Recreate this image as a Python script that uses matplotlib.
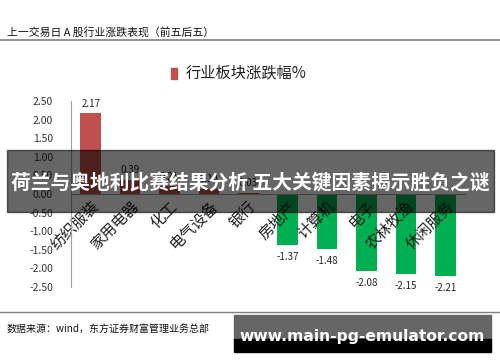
import matplotlib
matplotlib.use("Agg")
import matplotlib.pyplot as plt
import numpy as np
from matplotlib.patches import Rectangle

plt.rcParams['font.family'] = ['Noto Sans CJK SC', 'DejaVu Sans']

# data
industries = ["纺织服装", "家用电器", "化工", "电气设备", "银行",
              "房地产", "计算机", "电子", "农林牧渔", "休闲服务"]
changes = [2.17, 0.39, 0.21, 0.14, 0.03, -1.37, -1.48, -2.08, -2.15, -2.21]
yticks = [2.5, 2.0, 1.5, 1.0, 0.5, 0.0, -0.5, -1.0, -1.5, -2.0, -2.5]

title_text = "上一交易日 A 股行业涨跌表现（前五后五）"
legend_text = "行业板块涨跌幅%"
source_text = "数据来源：wind，东方证券财富管理业务总部"
banner_text = "荷兰与奥地利比赛结果分析 五大关键因素揭示胜负之谜"
watermark_text = "www.main-pg-emulator.com"

RED = "#C0504D"
GREEN = "#00B050"

fig = plt.figure(figsize=(5.0, 3.62), dpi=100)
ax = fig.add_axes([0.142, 0.207, 0.788, 0.514])

x = np.arange(len(industries))
colors = [RED if v >= 0 else GREEN for v in changes]
# bars under the axis so the category labels sit on top of them
ax.bar(x, changes, width=0.52, color=colors, zorder=1)

for xi, v in zip(x, changes):
    if v >= 0:
        ax.text(xi, v + 0.12, f"{v:.2f}", ha="center", va="bottom",
                fontsize=7, color="#222222")
    else:
        ax.text(xi, v - 0.18, f"{v:.2f}", ha="center", va="top",
                fontsize=7, color="#222222")

# spine position first: it resets the tick objects
for s in ("top", "right"):
    ax.spines[s].set_visible(False)
ax.spines["bottom"].set_position(("data", 0))
ax.spines["left"].set_color("#A0A0A0")
ax.spines["bottom"].set_color("#A0A0A0")
ax.spines["left"].set_linewidth(0.8)
ax.spines["bottom"].set_linewidth(0.8)

ax.set_xlim(-0.5, len(industries) - 0.5)
ax.set_ylim(-2.5, 2.5)
ax.set_yticks(yticks)
ax.set_yticklabels([f"{t:.2f}" for t in yticks], fontsize=7.5, color="#333333")
ax.set_xticks(x)
ax.set_xticklabels(industries, rotation=45, ha="right", va="top",
                   rotation_mode="anchor", fontsize=11, color="#222222")
ax.tick_params(axis="x", length=0, pad=3)
ax.tick_params(axis="y", length=0, pad=13)

# header and footer
fig.text(0.014, 1 - 32 / 362, title_text, fontsize=7.8, color="#111111",
         va="center", ha="left")
fig.add_artist(plt.Line2D([0, 1], [1 - 40 / 362] * 2, color="#808080", lw=1.2))
fig.add_artist(plt.Line2D([0, 1], [1 - 312 / 362] * 2, color="#808080", lw=1.0))
fig.text(0.014, 1 - 329 / 362, source_text, fontsize=7.2, color="#111111",
         va="center", ha="left")

# legend
fig.add_artist(Rectangle((171 / 500, 1 - 79 / 362), 6 / 500, 11 / 362,
                         transform=fig.transFigure, color=RED))
fig.text(186 / 500, 1 - 73 / 362, legend_text, fontsize=11, color="#222222",
         va="center", ha="left")

# overlay banner
fig.add_artist(Rectangle((7 / 500, 1 - 212 / 362), 487 / 500, 62 / 362,
                         transform=fig.transFigure, color="black", alpha=0.6,
                         zorder=5))
fig.text(250 / 500, 1 - 183 / 362, banner_text, fontsize=14.2, color="white",
         fontweight="bold", va="center", ha="center", zorder=6)

# watermark box
fig.add_artist(Rectangle((234 / 500, 1 - 339 / 362), 257 / 500, 24 / 362,
                         transform=fig.transFigure, color="#666666", zorder=5))
fig.add_artist(Rectangle((234 / 500, 1 - 352 / 362), 257 / 500, 13 / 362,
                         transform=fig.transFigure, color="black", zorder=5))
fig.text(362 / 500, 1 - 336 / 362, watermark_text, fontsize=11.2, color="white",
         fontweight="bold", va="center", ha="center", zorder=6,
         family=["DejaVu Sans"])

fig.savefig("out.png", dpi=100)
